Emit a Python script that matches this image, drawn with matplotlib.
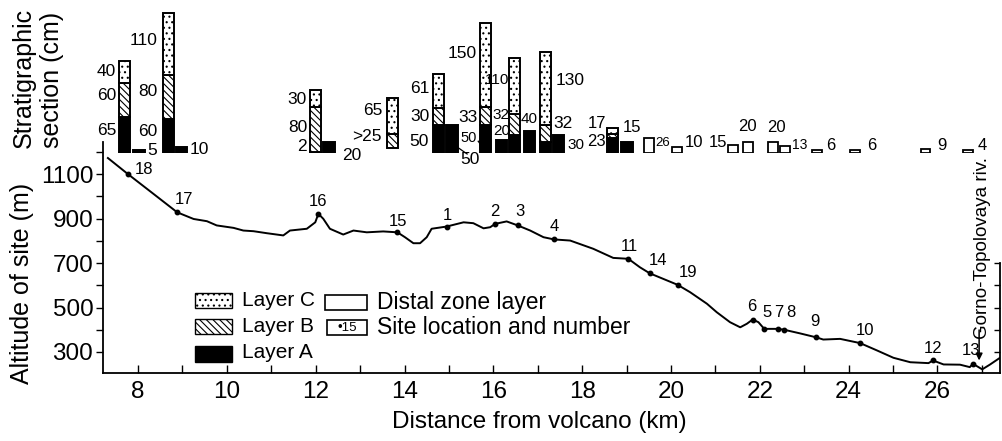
import matplotlib
matplotlib.use('Agg')
import matplotlib.pyplot as plt
from matplotlib import font_manager
from matplotlib.patches import Rectangle

plt.rcParams['font.family'] = ['Liberation Sans', 'DejaVu Sans']
plt.rcParams['hatch.linewidth'] = 0.8
names = {f.name for f in font_manager.fontManager.ttflist}
NARROW = 'Liberation Sans Narrow' if 'Liberation Sans Narrow' in names else 'Liberation Sans'

# topographic profile (km, m)
profile_km = [7.32, 7.77, 8.3, 8.88, 9.25, 9.55, 9.77, 10.15, 10.37, 10.6, 10.9, 11.27,
              11.42, 11.8, 11.99, 12.06, 12.17, 12.32, 12.62, 12.85, 13.15, 13.52, 13.84,
              14.01, 14.2, 14.35, 14.5, 14.61, 14.95, 15.33, 15.55, 15.78, 15.93, 16.04,
              16.3, 16.55, 16.83, 17.13, 17.37, 17.73, 18.25, 18.7, 19.04, 19.3, 19.52,
              20.15, 20.43, 20.81, 21.03, 21.33, 21.56, 21.71, 21.84, 21.97, 22.1, 22.4,
              22.55, 22.9, 23.27, 23.43, 23.81, 24.26, 24.64, 25.01, 25.39, 25.8, 25.9,
              26.14, 26.51, 26.73, 26.8, 27.01, 27.18, 27.41]
profile_alt = [1172, 1100, 1018, 928, 898, 888, 869, 858, 846, 843, 834, 824,
               846, 854, 883, 921, 899, 854, 828, 846, 838, 842, 838,
               816, 789, 789, 816, 854, 864, 883, 879, 856, 861, 876,
               887, 869, 846, 816, 806, 801, 764, 723, 719, 681, 654,
               602, 569, 517, 479, 434, 411, 427, 446, 434, 404, 404,
               400, 384, 366, 356, 359, 340, 307, 274, 254, 250, 262,
               244, 243, 232, 247, 222, 243, 274]

# sites
site_ids = [18, 17, 16, 15, 1, 2, 3, 4, 11, 14, 19, 6, 5, 7, 8, 9, 10, 12, 13]
site_km = [7.77, 8.88, 12.06, 13.84, 14.95, 16.04, 16.55, 17.37, 19.04, 19.52, 20.15,
           21.84, 22.1, 22.4, 22.55, 23.27, 24.26, 25.9, 26.8]
site_alt = [1100, 928, 921, 838, 864, 876, 869, 806, 719, 654, 602,
            446, 404, 404, 400, 366, 340, 262, 247]
site_offsets = [(16, 5), (7, 13), (0, 12), (1, 11), (1, 11), (0, 12), (2, 14), (0, 13),
                (1, 12), (8, 13), (10, 12), (-1, 13), (3, 16), (1, 16), (7, 17),
                (-1, 16), (5, 13), (0, 12), (-2, 13)]

# stratigraphic sections (cm)
bar_km = [7.685, 8.02, 8.68, 8.98, 11.99, 12.30, 13.72, 14.76, 15.07, 15.82, 16.18,
          16.47, 16.81, 17.17, 17.46, 18.69, 19.01]
layer_a = [65, 5, 60, 10, 2, 20, 0, 50, 50, 50, 24, 32, 40, 20, 32, 26, 20]
layer_b = [60, 0, 80, 0, 80, 0, 25, 30, 0, 33, 0, 38, 0, 30, 0, 8, 0]
layer_c = [40, 0, 110, 0, 30, 0, 65, 61, 0, 150, 0, 100, 0, 130, 0, 10, 0]
bar_base = [0, 0, 0, 0, 0, 0, 9, 0, 0, 0, 0, 0, 0, 0, 0, 0, 0]

distal_km = [19.51, 20.13, 21.40, 21.74, 22.29, 22.57, 23.29, 24.15, 25.73, 26.69]
distal_cm = [26, 10, 15, 20, 20, 13, 6, 6, 8, 5]

# thickness labels: text, km, cm, ha, size
bar_labels = [
    ('40', 7.505, 146, 'right', 12.5), ('60', 7.505, 102, 'right', 12.5),
    ('65', 7.505, 41, 'right', 12.5), ('5', 8.203, 4, 'left', 12.5),
    ('110', 8.428, 200, 'right', 12.5), ('80', 8.428, 109, 'right', 12.5),
    ('60', 8.428, 39, 'right', 12.5), ('10', 9.171, 7, 'left', 12.5),
    ('30', 11.806, 96, 'right', 12.5), ('80', 11.806, 46, 'right', 12.5),
    ('2', 11.806, 11, 'right', 12.5), ('20', 12.595, -5, 'left', 12.5),
    ('65', 13.495, 75, 'right', 12.5), ('>25', 13.495, 30, 'right', 12.5),
    ('61', 14.554, 116, 'right', 12.5), ('30', 14.554, 66, 'right', 12.5),
    ('50', 14.554, 21, 'right', 12.5), ('50', 15.477, -12.5, 'center', 12.5),
    ('150', 15.635, 177, 'right', 12.5), ('33', 15.635, 64, 'right', 12.5),
    ('50', 15.635, 27, 'right', 10.5),
    ('110', 16.356, 130, 'right', 11), ('32', 16.176, 68, 'center', 11),
    ('20', 16.198, 39, 'center', 11), ('40', 16.806, 61, 'center', 11),
    ('130', 17.392, 130, 'left', 12.5), ('32', 17.347, 52, 'left', 12.5),
    ('30', 17.662, 14, 'left', 11), ('17', 18.541, 52, 'right', 12),
    ('23', 18.541, 20, 'right', 12), ('15', 19.126, 45, 'center', 12),
    ('26', 19.644, 18, 'left', 9.5), ('10', 20.32, 18, 'left', 12),
    ('15', 21.266, 18, 'right', 12), ('20', 21.716, 48, 'center', 12),
    ('20', 22.369, 45, 'center', 12), ('13', 22.73, 14, 'left', 10),
    ('6', 23.495, 14, 'left', 12), ('6', 24.419, 14, 'left', 12),
    ('9', 25.995, 14, 'left', 12), ('4', 26.9, 14, 'left', 12),
]

XMIN, XMAX = 7.21, 27.41
YMIN, YMAX = 205.6, 1244

fig = plt.figure(figsize=(10.02, 4.41), dpi=100)

ax = fig.add_axes([0.1028, 0.1542, 0.8952, 0.5238])
ax.plot(profile_km, profile_alt, color='black', lw=1.4)
ax.plot(site_km, site_alt, 'o', ms=3.2, color='black')
for s, x, y, off in zip(site_ids, site_km, site_alt, site_offsets):
    ax.annotate(str(s), (x, y), xytext=off, textcoords='offset pixels',
                ha='center', va='center', fontsize=12)
ax.set_xlim(XMIN, XMAX)
ax.set_ylim(YMIN, YMAX)
ax.spines['top'].set_visible(False)
ax.spines['right'].set_bounds(YMIN, 700)
for sp in ax.spines.values():
    sp.set_linewidth(1.3)
ax.set_xticks(range(8, 27, 2))
ax.set_xticks(range(9, 28, 2), minor=True)
ax.set_yticks([300, 500, 700, 900, 1100])
ax.set_yticks([400, 600, 800, 1000, 1200], minor=True)
ax.tick_params(axis='x', which='both', direction='in', length=6, width=1, labelsize=17.5, pad=6)
ax.tick_params(axis='y', which='both', direction='out', length=5, width=1, labelsize=17.5, pad=2)
ax.hlines([300, 400, 500, 600, 700], XMAX - 0.13, XMAX, color='black', lw=1, clip_on=False)

ax.annotate('', xy=(26.94, 262), xytext=(26.94, 399),
            arrowprops=dict(arrowstyle='-|>', color='black', lw=1.1,
                            mutation_scale=10, shrinkA=0, shrinkB=0))

# stratigraphic sections
top = fig.add_axes([0.1028, 0.6531, 0.8952, 0.3469])
top.set_xlim(XMIN, XMAX)
top.set_ylim(0, 273.2)
top.axis('off')
top.patch.set_alpha(0)

W = 0.25
for x, a, b, c, base in zip(bar_km, layer_a, layer_b, layer_c, bar_base):
    if a > 0:
        top.bar(x, a, W, bottom=base, color='black', edgecolor='black', lw=1.4)
    if b > 0:
        top.bar(x, b, W, bottom=base + a, facecolor='white', edgecolor='black',
                hatch='\\\\\\\\\\', lw=1.4)
    if c > 0:
        top.bar(x, c, W, bottom=base + a + b, facecolor='white', edgecolor='black',
                hatch='...', lw=1.4)
top.bar(distal_km, distal_cm, 0.22, facecolor='white', edgecolor='black', lw=1.3)

for t, x, y, ha, fs in bar_labels:
    fam = NARROW if fs < 12 else 'Liberation Sans'
    top.text(x, y, t, ha=ha, va='center', fontsize=fs, family=fam, clip_on=False)
top.plot([15.185, 15.41], [10.7, -1.8], color='black', lw=0.9, clip_on=False)
top.plot([15.66, 15.75], [21, 11], color='black', lw=0.9, clip_on=False)

# overlay in pixel coordinates for labels and legend
ov = fig.add_axes([0, 0, 1, 1])
ov.set_xlim(0, 1002)
ov.set_ylim(441, 0)
ov.axis('off')
ov.patch.set_alpha(0)

ov.text(22, 283, 'Altitude of site (m)', rotation=90, ha='center', va='center', fontsize=18)
ov.text(38, 148, 'Stratigraphic\nsection (cm)', rotation=90, ha='center', va='bottom',
        multialignment='left', fontsize=18, linespacing=1.25)
ov.text(539, 422, 'Distance from volcano (km)', ha='center', va='center', fontsize=17.5)
ov.text(983, 248, 'Gorno-Topolovaya riv.', rotation=90, ha='center', va='center',
        fontsize=16 if NARROW != 'Liberation Sans' else 13.5, family=NARROW)

ov.add_patch(Rectangle((195, 293), 37, 15, facecolor='white', edgecolor='black', lw=1, hatch='...'))
ov.add_patch(Rectangle((195, 319), 37, 15, facecolor='white', edgecolor='black', lw=1, hatch='\\\\\\\\\\'))
ov.add_patch(Rectangle((195, 346), 37, 16, facecolor='black', edgecolor='black', lw=1))
lay_fs = 16.5 if NARROW != 'Liberation Sans' else 15
for t, y in [('Layer C', 301), ('Layer B', 327), ('Layer A', 353)]:
    ov.text(242, y, t, ha='left', va='center', fontsize=lay_fs, family=NARROW)
ov.add_patch(Rectangle((325, 295), 42, 15, facecolor='white', edgecolor='black', lw=1.2))
ov.add_patch(Rectangle((327, 320), 40, 15, facecolor='white', edgecolor='black', lw=1.2))
ov.text(347, 328, '\u202215', ha='center', va='center', fontsize=9.5)
ov.text(377, 302, 'Distal zone layer', ha='left', va='center', fontsize=16.5)
ov.text(377, 327, 'Site location and number', ha='left', va='center', fontsize=16.5)

fig.savefig('out.png', dpi=100)
